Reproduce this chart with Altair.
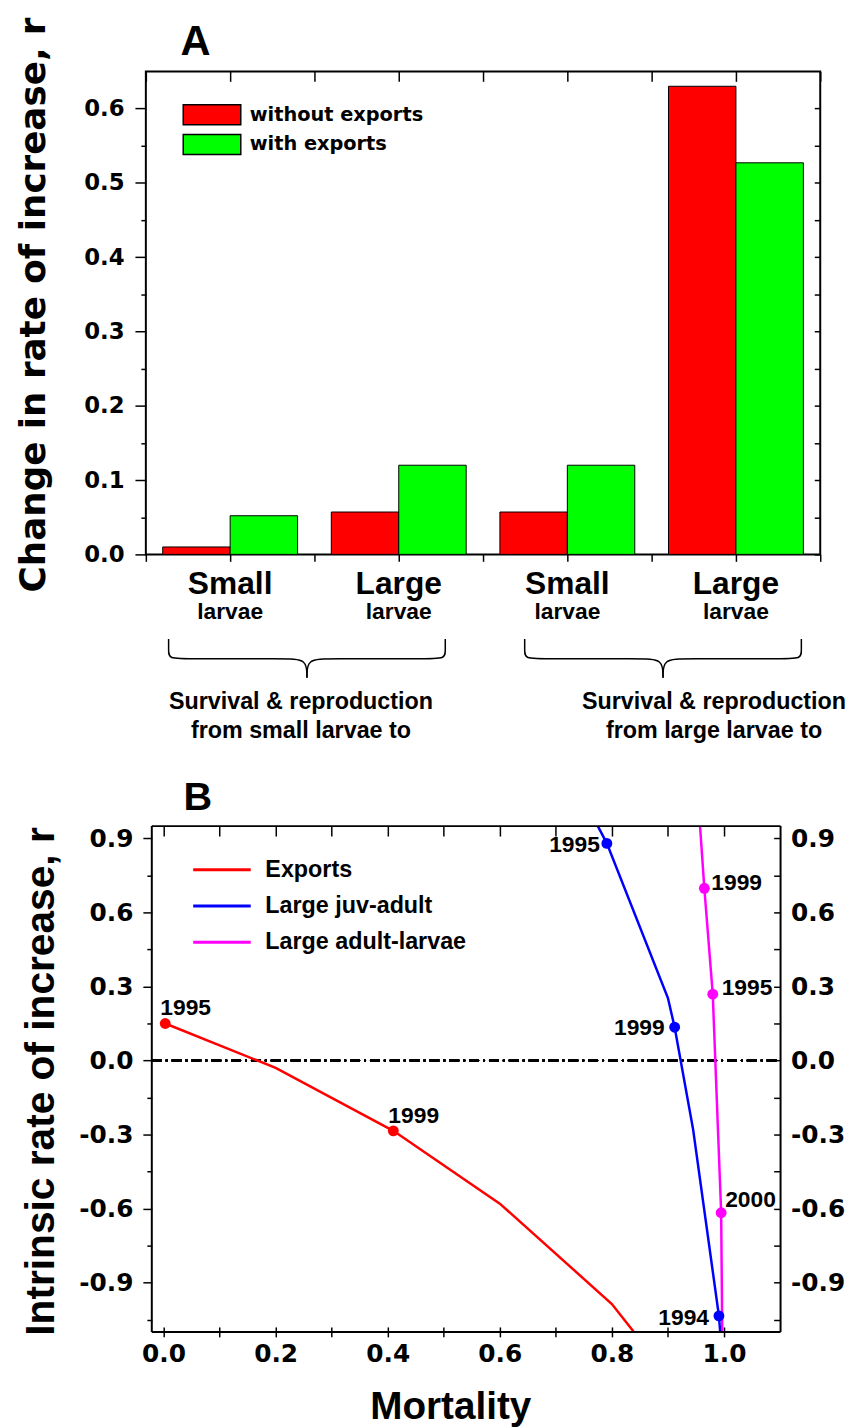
import altair as alt
import pandas as pd

# ---------------- Panel A data ----------------
cat_pos = [1, 2, 3, 4]
cat_main = ["Small", "Large", "Small", "Large"]
cat_sub = ["larvae", "larvae", "larvae", "larvae"]
series_a = ["without exports", "with exports"]
without_exports = [0.010, 0.057, 0.057, 0.630]
with_exports = [0.052, 0.120, 0.120, 0.527]
colors_a = ["#ff0000", "#00ff00"]
group_pos = [1.42, 3.87]
group_line1 = ["Survival & reproduction", "Survival & reproduction"]
group_line2 = ["from small larvae to", "from large larvae to"]
brace_start = [0.635, 2.747]
brace_end = [2.276, 4.388]
brace_shape_fx = [0.0, 0.0, 0.0, 0.07, 0.42, 0.5, 0.5]
brace_shape_fy = [0.0, 0.3, 0.51, 0.51, 0.51, 0.51, 1.0]
panel_labels = ["A", "B"]

# ---------------- Panel B data ----------------
series_b = ["Exports", "Large juv-adult", "Large adult-larvae"]
colors_b = ["#ff0000", "#0000ff", "#ff00ff"]
exports_x = [0.003, 0.2, 0.41, 0.6, 0.8, 0.86]
exports_y = [0.15, -0.03, -0.285, -0.58, -0.987, -1.16]
juv_x = [0.768, 0.791, 0.900, 0.912, 0.945, 0.991, 0.994]
juv_y = [0.98, 0.88, 0.253, 0.135, -0.28, -1.035, -1.12]
adl_x = [0.957, 0.965, 0.980, 0.995, 0.997]
adl_y = [0.96, 0.698, 0.269, -0.617, -1.12]
mk_series = ["Exports", "Exports", "Large juv-adult", "Large juv-adult", "Large juv-adult",
             "Large adult-larvae", "Large adult-larvae", "Large adult-larvae"]
mk_x = [0.003, 0.41, 0.791, 0.912, 0.991, 0.965, 0.980, 0.995]
mk_y = [0.15, -0.285, 0.88, 0.135, -1.035, 0.698, 0.269, -0.617]
mk_year = ["1995", "1999", "1995", "1999", "1994", "1999", "1995", "2000"]
mk_side = ["left", "left", "right", "right", "right", "left", "left", "left"]
mk_dx = [-5, -5, -7, -10, -10, 7, 9, 4]
mk_dy = [-9, -8, 9, 8, 9, 2, 1, -6]

# ---------------- layout / style ----------------
ARIAL = "Liberation Sans, Arial, Helvetica, sans-serif"
WIDE = "DejaVu Sans, Verdana, sans-serif"
A_W, A_H = 680, 487
B_W, B_H = 640, 510
B_X0 = 6
XA_DOM = [0.5, 4.5]
YA_DOM = [0, 0.65]
XB_DOM = [-0.021, 1.101]
YB_DOM = [-1.1, 0.95]
BAR_W = 0.4

XA = alt.Scale(domain=XA_DOM, nice=False, zero=False)
YA = alt.Scale(domain=YA_DOM, nice=False, zero=False)
XB = alt.Scale(domain=XB_DOM, range=[B_X0, B_W], nice=False, zero=False)
YB = alt.Scale(domain=YB_DOM, nice=False, zero=False)

SMALL_Y, SUB_Y = -0.0527, -0.0866
BRACE_TOP, BRACE_TIP = -0.114, -0.166
G1_Y, G2_Y = -0.2087, -0.2473
LABEL_A_POS = (0.706, 0.6727)
LABEL_B_POS = (0.0357, 1.0143)

def ax(**kw):
    base = dict(domain=False, grid=False, tickColor="black", tickWidth=1.5,
                labelColor="black", titleColor="black")
    base.update(kw)
    return alt.Axis(**base)

FIX_MINUS = "replace(format(datum.value, '.1f'), '\u2212', '-')"

# ---------------- Panel A ----------------
rows = []
for c, v1, v2 in zip(cat_pos, without_exports, with_exports):
    rows.append({"c": c, "series": series_a[0], "value": v1, "x0": c - BAR_W, "x1": c})
    rows.append({"c": c, "series": series_a[1], "value": v2, "x0": c, "x1": c + BAR_W})
bars_df = pd.DataFrame(rows)

a_x_ticks = [0.5 + 0.5 * i for i in range(9)]
a_y_ticks = [round(0.05 * i, 2) for i in range(13)]
minor_a = "round(datum.value*20) % 2 == 1"

bars = alt.Chart(bars_df).mark_rect(stroke="black", strokeWidth=1).encode(
    x=alt.X("x0:Q", scale=XA, axis=ax(orient="bottom", values=a_x_ticks, labels=False,
                                       tickSize=7, title=None)),
    x2="x1:Q",
    y=alt.Y("value:Q", scale=YA, axis=ax(
        orient="left", values=a_y_ticks,
        labelExpr=f"round(datum.value*20) % 2 == 0 ? {FIX_MINUS} : ''",
        tickSize={"condition": {"test": minor_a, "value": 5}, "value": 11},
        labelFont=WIDE, labelFontSize=23, labelFontWeight="bold", labelPadding=11,
        title="Change in rate of increase, r", titleFont=WIDE, titleFontSize=36,
        titleFontWeight="bold", titleAngle=270, titleX=-102, titleY=235,
        titleAlign="center", titleBaseline="alphabetic")),
    y2=alt.datum(0),
    color=alt.Color("series:N", scale=alt.Scale(domain=series_a, range=colors_a),
                    legend=alt.Legend(orient="none", legendX=55.7, legendY=32.7, title=None,
                                      symbolType="M-2.9,-1L2.9,-1L2.9,1L-2.9,1Z",
                                      symbolSize=400, symbolStrokeColor="black",
                                      symbolStrokeWidth=1.5, symbolOpacity=1,
                                      labelFont=WIDE, labelFontSize=19.5, labelFontWeight="bold",
                                      labelColor="black", labelOffset=27, rowPadding=4,
                                      padding=0, labelLimit=400)),
)

axes_a = alt.Chart(bars_df).mark_point(opacity=0).encode(
    x=alt.X("c:Q", scale=XA, axis=ax(orient="top", values=a_x_ticks, labels=False,
                                      tickSize=10, offset=-10, title=None)),
    y=alt.Y("value:Q", scale=YA, axis=ax(orient="right", values=a_y_ticks, labels=False,
                                          tickSize=6, offset=-6, title=None)),
)

cat_df = pd.DataFrame({"c": cat_pos, "main": cat_main, "sub": cat_sub})
cat_main_t = alt.Chart(cat_df).mark_text(font=ARIAL, fontSize=32, fontWeight="bold",
                                          baseline="alphabetic", color="black").encode(
    x=alt.X("c:Q", scale=XA, axis=None),
    y=alt.YDatum(SMALL_Y, scale=YA, axis=None),
    text="main:N",
)
cat_sub_t = alt.Chart(cat_df).mark_text(font=ARIAL, fontSize=23, fontWeight="bold",
                                         baseline="alphabetic", color="black").encode(
    x=alt.X("c:Q", scale=XA, axis=None),
    y=alt.YDatum(SUB_Y, scale=YA, axis=None),
    text="sub:N",
)

brace_rows = []
for b, (s, e) in enumerate(zip(brace_start, brace_end)):
    for h in (0, 1):
        for i, (fx, fy) in enumerate(zip(brace_shape_fx, brace_shape_fy)):
            f = fx if h == 0 else 1 - fx
            brace_rows.append({"key": f"{b}-{h}", "i": i,
                               "x": s + (e - s) * f,
                               "y": BRACE_TOP + (BRACE_TIP - BRACE_TOP) * fy})
brace_df = pd.DataFrame(brace_rows)
braces = alt.Chart(brace_df).mark_line(color="black", strokeWidth=1.5, interpolate="basis").encode(
    x=alt.X("x:Q", scale=XA, axis=None),
    y=alt.Y("y:Q", scale=YA, axis=None),
    detail="key:N",
    order="i:Q",
)

grp_df = pd.DataFrame({"c": group_pos, "l1": group_line1, "l2": group_line2})
grp1 = alt.Chart(grp_df).mark_text(font=ARIAL, fontSize=23.5, fontWeight="bold",
                                    baseline="alphabetic", color="black").encode(
    x=alt.X("c:Q", scale=XA, axis=None),
    y=alt.YDatum(G1_Y, scale=YA, axis=None),
    text="l1:N",
)
grp2 = alt.Chart(grp_df).mark_text(font=ARIAL, fontSize=23.5, fontWeight="bold",
                                    baseline="alphabetic", color="black").encode(
    x=alt.X("c:Q", scale=XA, axis=None),
    y=alt.YDatum(G2_Y, scale=YA, axis=None),
    text="l2:N",
)

label_a = alt.Chart(pd.DataFrame({"t": [panel_labels[0]]})).mark_text(
    font=ARIAL, fontSize=42, fontWeight="bold", align="left", baseline="alphabetic",
    color="black").encode(
    x=alt.XDatum(LABEL_A_POS[0], scale=XA, axis=None),
    y=alt.YDatum(LABEL_A_POS[1], scale=YA, axis=None),
    text="t:N",
)

panel_a = alt.layer(bars, axes_a, cat_main_t, cat_sub_t, braces, grp1, grp2, label_a).resolve_axis(
    x="independent", y="independent"
).properties(width=A_W, height=A_H)

# ---------------- Panel B ----------------
line_rows = []
for name, xs, ys in zip(series_b, [exports_x, juv_x, adl_x], [exports_y, juv_y, adl_y]):
    for i, (x, y) in enumerate(zip(xs, ys)):
        line_rows.append({"serie": name, "i": i, "x": x, "y": y})
line_df = pd.DataFrame(line_rows)

px_x = (B_W - B_X0) / (XB_DOM[1] - XB_DOM[0])
px_y = B_H / (YB_DOM[1] - YB_DOM[0])
mk_df = pd.DataFrame({"serie": mk_series, "x": mk_x, "y": mk_y, "year": mk_year,
                      "side": mk_side, "dx": mk_dx, "dy": mk_dy})
mk_df["lx"] = mk_df["x"] + mk_df["dx"] / px_x
mk_df["ly"] = mk_df["y"] - mk_df["dy"] / px_y

b_x_ticks = [round(0.1 * i, 1) for i in range(11)]
b_y_ticks = [round(-1.05 + 0.15 * i, 2) for i in range(14)]
minor_b = "abs(round(datum.value*100/15)) % 2 == 1"
lab_b = f"abs(round(datum.value*100/15)) % 2 == 0 ? {FIX_MINUS} : ''"

color_b = alt.Scale(domain=series_b, range=colors_b)

lines = alt.Chart(line_df).mark_line(strokeWidth=2.5, clip=True).encode(
    x=alt.X("x:Q", scale=XB, axis=ax(
        orient="bottom", values=b_x_ticks,
        labelExpr=f"round(datum.value*10) % 2 == 0 ? {FIX_MINUS} : ''",
        tickSize=10, offset=-5, labelPadding=5,
        labelFont=WIDE, labelFontSize=25, labelFontWeight="bold",
        title="Mortality", titleFont=ARIAL, titleFontSize=39, titleFontWeight="bold",
        titleX=307, titleY=92, titleAlign="center", titleBaseline="alphabetic")),
    y=alt.Y("y:Q", scale=YB, axis=ax(
        orient="left", values=b_y_ticks, labelExpr=lab_b,
        tickSize={"condition": {"test": minor_b, "value": 5}, "value": 9},
        offset=-B_X0, labelPadding=10,
        labelFont=WIDE, labelFontSize=25, labelFontWeight="bold",
        title="Intrinsic rate of increase, r", titleFont=ARIAL, titleFontSize=41,
        titleFontWeight="bold", titleAngle=270, titleX=-99, titleY=257,
        titleAlign="center", titleBaseline="alphabetic")),
    color=alt.Color("serie:N", scale=color_b,
                    legend=alt.Legend(orient="none", legendX=65, legendY=32.25, title=None,
                                      symbolType="M-2.9,0L2.9,0", symbolSize=400,
                                      symbolStrokeWidth=3, labelFont=ARIAL,
                                      labelFontSize=23.5, labelFontWeight="bold",
                                      labelColor="black", labelOffset=32, rowPadding=11.5,
                                      padding=0, labelLimit=400)),
    order="i:Q",
)

points = alt.Chart(mk_df).mark_circle(size=120, opacity=1).encode(
    x=alt.X("x:Q", scale=XB, axis=None),
    y=alt.Y("y:Q", scale=YB, axis=None),
    color=alt.Color("serie:N", scale=color_b, legend=None),
)

labels_l = alt.Chart(mk_df).transform_filter("datum.side == 'left'").mark_text(
    font=ARIAL, fontSize=23, fontWeight="bold", align="left", baseline="alphabetic",
    color="black").encode(
    x=alt.X("lx:Q", scale=XB, axis=None),
    y=alt.Y("ly:Q", scale=YB, axis=None),
    text="year:N",
)
labels_r = alt.Chart(mk_df).transform_filter("datum.side == 'right'").mark_text(
    font=ARIAL, fontSize=23, fontWeight="bold", align="right", baseline="alphabetic",
    color="black").encode(
    x=alt.X("lx:Q", scale=XB, axis=None),
    y=alt.Y("ly:Q", scale=YB, axis=None),
    text="year:N",
)

zero_line = alt.Chart(line_df).mark_rule(color="black", strokeWidth=1.5,
                                         strokeDash=[10, 4, 2, 4]).encode(
    x=alt.XDatum(XB_DOM[0], scale=XB, axis=None),
    x2=alt.datum(XB_DOM[1]),
    y=alt.YDatum(0, scale=YB, axis=None),
)

frame_v = alt.Chart(pd.DataFrame({"fx": XB_DOM})).mark_rule(color="black", strokeWidth=2).encode(
    x=alt.X("fx:Q", scale=XB, axis=None),
)
frame_h = alt.Chart(pd.DataFrame({"fy": YB_DOM})).mark_rule(color="black", strokeWidth=2).encode(
    x=alt.XDatum(XB_DOM[0], scale=XB, axis=None),
    x2=alt.datum(XB_DOM[1]),
    y=alt.Y("fy:Q", scale=YB, axis=None),
)

axes_b = alt.Chart(line_df).mark_point(opacity=0).encode(
    x=alt.X("x:Q", scale=XB, axis=ax(orient="top", values=b_x_ticks, labels=False,
                                      tickSize=10, offset=-10, title=None)),
    y=alt.Y("y:Q", scale=YB, axis=ax(orient="right", values=b_y_ticks, labelExpr=lab_b,
                                      tickSize=7, offset=-7, labelPadding=10,
                                      labelFont=WIDE, labelFontSize=25,
                                      labelFontWeight="bold", labelAlign="left",
                                      title=None)),
)

label_b = alt.Chart(pd.DataFrame({"t": [panel_labels[1]]})).mark_text(
    font=ARIAL, fontSize=40, fontWeight="bold", align="left", baseline="alphabetic",
    color="black").encode(
    x=alt.XDatum(LABEL_B_POS[0], scale=XB, axis=None),
    y=alt.YDatum(LABEL_B_POS[1], scale=YB, axis=None),
    text="t:N",
)

panel_b = alt.layer(zero_line, lines, points, labels_l, labels_r, axes_b, frame_v, frame_h,
                    label_b).resolve_axis(
    x="independent", y="independent"
).properties(
    width=B_W, height=B_H,
    view=alt.ViewBackground(stroke="transparent"),
)

chart = alt.vconcat(panel_a, panel_b, spacing=34).resolve_scale(
    color="independent", x="independent", y="independent"
).properties(
    padding={"left": 6, "top": 2, "right": 0, "bottom": 0},
    background="white",
).configure_view(stroke="black", strokeWidth=2)

chart.save("out.html", embed_options={"renderer": "svg", "actions": False})
